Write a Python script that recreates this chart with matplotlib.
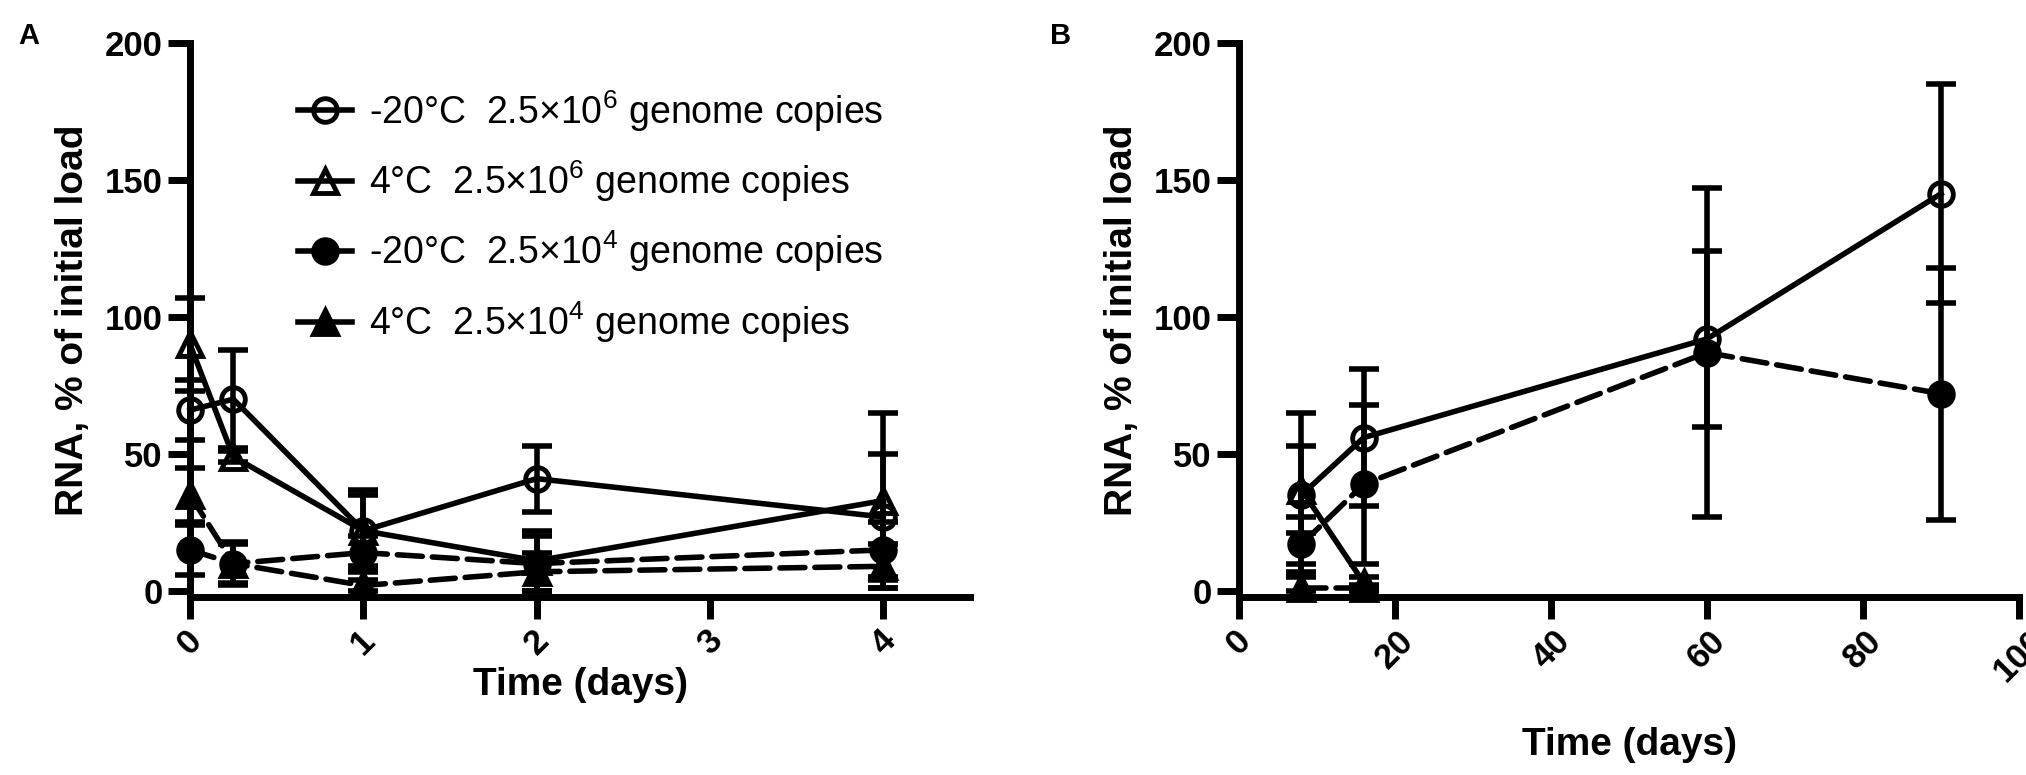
import matplotlib
matplotlib.use("Agg")
import matplotlib.pyplot as plt
from matplotlib.lines import Line2D

plt.rcParams['font.family'] = ['Liberation Sans', 'DejaVu Sans']
plt.rcParams['mathtext.fontset'] = 'custom'
plt.rcParams['mathtext.rm'] = 'Liberation Sans'
plt.rcParams['mathtext.default'] = 'regular'

# ---------------- data ----------------
labels = ['-20°C  2.5×10$^{6}$ genome copies',
          '4°C  2.5×10$^{6}$ genome copies',
          '-20°C  2.5×10$^{4}$ genome copies',
          '4°C  2.5×10$^{4}$ genome copies']

# Panel A (days)
a_x = [0, 0.25, 1, 2, 4]
a_c6 = [66, 70, 22, 41, 27]
a_c6_err = [11, 18, 15, 12, 23]
a_t6 = [90, 49, 22, 11, 33]
a_t6_err = [17, 2, 13, 11, 32]
a_c4 = [15, 10, 14, 10, 15]
a_c4_err = [9, 7, 6, 10, 10]
a_t4 = [35, 10, 2, 7, 9]
a_t4_err = [10, 8, 2, 7, 8]

# Panel B (days)
b_x = [8, 16, 60, 90]
b_c6 = [35, 56, 92, 145]
b_c6_err = [30, 25, 32, 40]
b_c4 = [17, 39, 87, 72]
b_c4_err = [10, 29, 60, 46]
b_x_t = [8, 16]
b_t6 = [37, 3]
b_t6_err = [16, 2]
b_t4 = [1, 1]
b_t4_err_lo = [1, 1]
b_t4_err_hi = [9, 1]

a_xticks = [0, 1, 2, 3, 4]
b_xticks = [0, 20, 40, 60, 80, 100]
yticks = [0, 50, 100, 150, 200]

# ---------------- style ----------------
LW = 4.0
MS = 17
MEW = 3.5
CAP = 11
DASH = (4.5, 1.8)
TICKFS = 25
LABFS = 28

fig = plt.figure(figsize=(20.26, 7.75), dpi=100)
W, H = 2026, 775

def make_ax(left_px, right_px):
    ax = fig.add_axes([left_px / W, (H - 597) / H, (right_px - left_px) / W, (597 - 43) / H])
    for s in ['top', 'right']:
        ax.spines[s].set_visible(False)
    for s in ['left', 'bottom']:
        ax.spines[s].set_linewidth(5)
        ax.spines[s].set_capstyle('projecting')
    ax.set_ylim(-2.2, 200)
    ax.set_yticks(yticks)
    ax.tick_params(axis='both', width=5, length=16, labelsize=TICKFS, direction='out')
    for lab in ax.get_yticklabels():
        lab.set_fontweight('bold')
    ax.set_ylabel('RNA, % of initial load', fontsize=LABFS, fontweight='bold', labelpad=10)
    return ax

def series(ax, x, y, err, marker, filled, dashed):
    ls = (0, DASH) if dashed else '-'
    ax.errorbar(x, y, yerr=err, fmt='none', ecolor='black', elinewidth=LW,
                capsize=CAP, capthick=LW, clip_on=False, zorder=2)
    ax.plot(x, y, linestyle=ls, color='black', linewidth=LW, marker=marker,
            markersize=MS, markeredgewidth=MEW, markeredgecolor='black',
            markerfacecolor='black' if filled else 'none',
            clip_on=False, zorder=3, dash_capstyle='round')

# ---- Panel A ----
axA = make_ax(190, 970)
axA.set_xlim(0, 4.5)
axA.set_xticks(a_xticks)
axA.set_xticklabels([str(t) for t in a_xticks], rotation=45, ha='center',
                    fontsize=TICKFS, fontweight='bold')
axA.set_xlabel('Time (days)', fontsize=LABFS, fontweight='bold', labelpad=4)
series(axA, a_x, a_c6, a_c6_err, 'o', False, False)
series(axA, a_x, a_t6, a_t6_err, '^', False, False)
series(axA, a_x, a_c4, a_c4_err, 'o', True, True)
series(axA, a_x, a_t4, a_t4_err, '^', True, True)

handles = [
    Line2D([], [], color='black', lw=LW, marker='o', ms=MS, mew=MEW, mfc='none'),
    Line2D([], [], color='black', lw=LW, marker='^', ms=MS, mew=MEW, mfc='none'),
    Line2D([], [], color='black', lw=LW, marker='o', ms=MS, mew=MEW, mfc='black'),
    Line2D([], [], color='black', lw=LW, marker='^', ms=MS, mew=MEW, mfc='black'),
]
fig.legend(handles, labels, loc='upper left', bbox_to_anchor=(298 / W, 1 - 88 / H),
           frameon=False, fontsize=27, handlelength=1.45, handletextpad=0.43,
           labelspacing=0.66, borderpad=0, borderaxespad=0)

# ---- Panel B ----
axB = make_ax(1239, 2019)
axB.set_xlim(0, 100)
axB.set_xticks(b_xticks)
axB.set_xticklabels([str(t) for t in b_xticks], rotation=45, ha='center',
                    fontsize=TICKFS, fontweight='bold')
axB.set_xlabel('Time (days)', fontsize=LABFS, fontweight='bold')
axB.xaxis.set_label_coords(0.5, -(745 - 597) / (597 - 43))
axB.xaxis.label.set_va('center')
series(axB, b_x, b_c6, b_c6_err, 'o', False, False)
series(axB, b_x_t, b_t6, b_t6_err, '^', False, False)
series(axB, b_x, b_c4, b_c4_err, 'o', True, True)
series(axB, b_x_t, b_t4, [b_t4_err_lo, b_t4_err_hi], '^', True, True)

fig.text(18 / W, 1 - 36 / H, 'A', fontsize=21, fontweight='bold', va='center')
fig.text(1050 / W, 1 - 36 / H, 'B', fontsize=21, fontweight='bold', va='center')

fig.savefig('out.png', dpi=100)
